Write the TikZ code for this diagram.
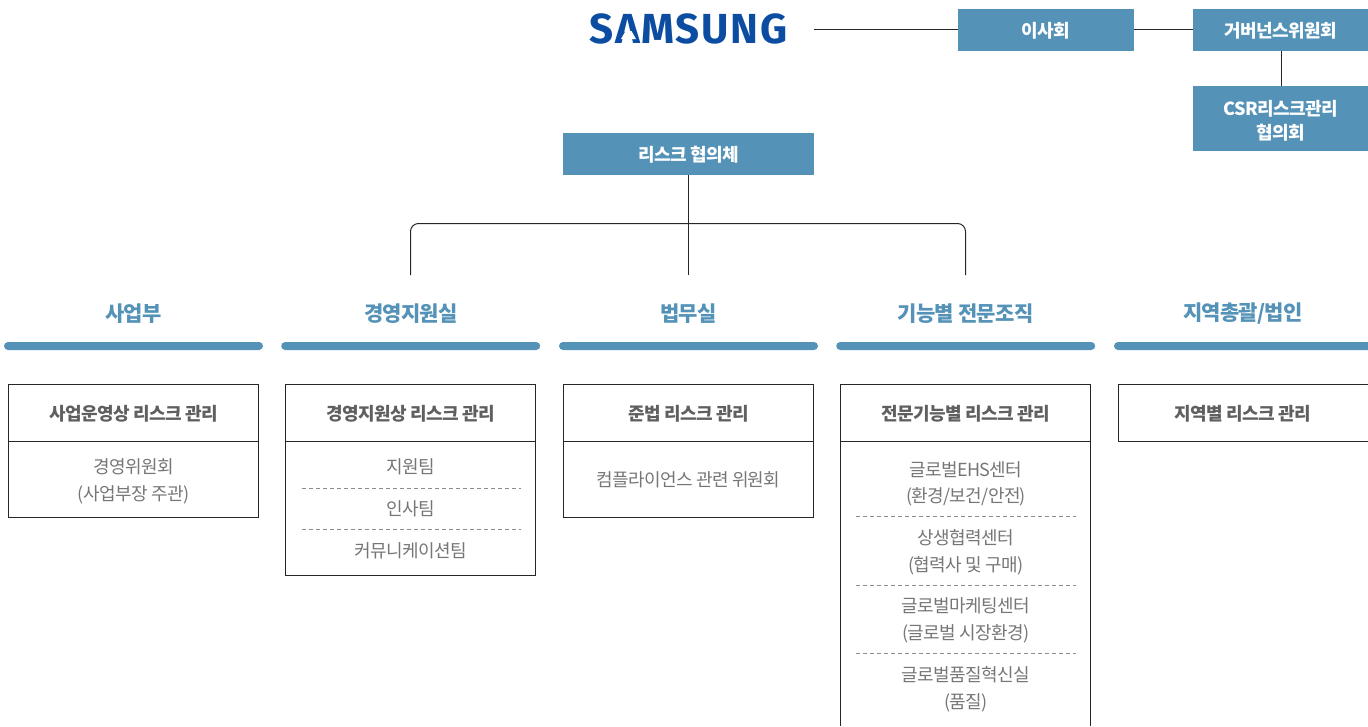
\documentclass[tikz,border=0pt]{standalone}
\usepackage{fontspec}
\setmainfont{Noto Sans CJK KR}[LetterSpace=-3.5]
\newfontfamily\logofont{Fira Sans}[LetterSpace=4]
\definecolor{riskblue}{HTML}{5492B7}
\definecolor{logoblue}{HTML}{0C4DA2}
\definecolor{headgray}{HTML}{5F5F5F}
\definecolor{bodygray}{HTML}{767676}
\definecolor{linedark}{HTML}{262626}
\definecolor{dashgray}{HTML}{8C8C8C}

\begin{document}
\begin{tikzpicture}[x=1pt,y=-1pt]
 \tikzstyle{bluebox} = [fill=riskblue,text=white,font=\fontsize{18}{24}\selectfont\bfseries,align=center,inner sep=0,outer sep=0,minimum height=42,execute at begin node={\rule{0pt}{17pt}}]
 \tikzstyle{coltitle} = [text=riskblue,font=\fontsize{21}{24}\selectfont\bfseries,inner sep=0]
 \tikzstyle{colbar} = [fill=riskblue,rounded corners=4,inner sep=0,outer sep=0,minimum width=259,minimum height=8]
 \tikzstyle{headbox} = [draw=linedark,line width=1pt,text=headgray,font=\fontsize{18}{24}\selectfont\bfseries,inner sep=0,outer sep=0,minimum width=250,minimum height=57,execute at begin node={\rule{0pt}{17pt}}]
 \tikzstyle{bodybox} = [draw=linedark,line width=1pt,inner sep=0,outer sep=0,minimum width=250]
 \tikzstyle{bodytext} = [text=bodygray,font=\fontsize{18}{24}\selectfont,inner sep=0]
 \tikzstyle{treeline} = [draw=linedark,line width=1pt]
 \tikzstyle{dashline} = [draw=dashgray,line width=0.8pt,dash pattern=on 4pt off 3pt]

 \useasboundingbox (0,0) rectangle (1368,726);

  % Top row
  \node[inner sep=0,text=logoblue,font=\logofont\fontsize{42}{42}\selectfont\bfseries] (logo) at (688.5,28.5) {SAMSUNG};
  % The logo's A has no bar
  \fill[white] (625.5,31) -- (631.5,31) -- (636,39) -- (621,39) -- cycle;
  \coordinate (logoend) at (814,29.5);
  \node[bluebox,minimum width=176] (board) at (1046,30) {이사회};
  \node[bluebox,minimum width=176] (govern) at (1281,30) {거버넌스위원회};
  \node[bluebox,minimum width=176,minimum height=65] (csr) at (1281,118.5) {\rule{0pt}{19pt}CSR리스크관리\\협의회};
  \node[bluebox,minimum width=251] (council) at (688.5,154) {리스크 협의체};

  \draw[treeline] (logoend) -- (logoend -| board.west);
  \draw[treeline] (board.east |- logoend) -- (govern.west |- logoend);
  \draw[treeline] (govern.south) -- (csr.north);

  % Column titles
  \node[coltitle] (title1) at (133.5,314) {사업부};
  \node[coltitle] (title2) at (411,314) {경영지원실};
  \node[coltitle] (title3) at (688.5,314) {법무실};
  \node[coltitle] (title4) at (965.5,314) {기능별 전문조직};
  \node[coltitle] (title5) at (1243,314) {지역총괄/법인};

  \node[colbar] (bar1) at (133.5,346) {};
  \node[colbar] (bar2) at (410.7,346) {};
  \node[colbar] (bar3) at (688.5,346) {};
  \node[colbar] (bar4) at (965.7,346) {};
  % Runs off the right edge
  \fill[riskblue] (1368,342) [rounded corners=4] -- (1114,342) -- (1114,350) [sharp corners] -- (1368,350) -- cycle;

  % Tree
  \coordinate (tree2) at (410.5,275);
  \coordinate (tree3) at (688.5,275);
  \coordinate (tree4) at (965.5,275);
  \draw[treeline] (council.south) -- (tree3);
  \draw[treeline,rounded corners=8] (tree2) -- (410.5,223.5) -- (965.5,223.5) -- (tree4);

  % Header boxes
  \node[headbox] (head1) at (133.5,413) {사업운영상 리스크 관리};
  \node[headbox] (head2) at (410.8,413) {경영지원상 리스크 관리};
  \node[headbox] (head3) at (688.5,413) {준법 리스크 관리};
  \node[headbox] (head4) at (965.8,413) {전문기능별 리스크 관리};
  \node[headbox] (head5) at (1243,413) {지역별 리스크 관리};

  % Body boxes
  \node[bodybox,minimum height=76] (body1) at (133.5,479.5) {};
  \node[bodybox,minimum height=134] (body2) at (410.8,508.5) {};
  \node[bodybox,minimum height=76] (body3) at (688.5,479.5) {};
  \coordinate (open4l) at (840.8,726);
  \coordinate (open4r) at (1090.8,726);
  \draw[treeline] (head4.south west) -- (open4l);
  \draw[treeline] (head4.south east) -- (open4r);

  % Body texts
  \node[bodytext] (t11) at (133.5,467) {경영위원회};
  \node[bodytext] (t12) at (133.5,495) {(사업부장 주관)};

  \node[bodytext] (t21) at (411,467) {지원팀};
  \node[bodytext] (t22) at (411,509) {인사팀};
  \node[bodytext] (t23) at (411,551) {커뮤니케이션팀};
  \coordinate (d21) at (302,488);
  \coordinate (d21e) at (521,488);
  \coordinate (d22) at (302,529.5);
  \coordinate (d22e) at (521,529.5);
  \draw[dashline] (d21) -- (d21e);
  \draw[dashline] (d22) -- (d22e);

  \node[bodytext] (t31) at (688.5,480) {컴플라이언스 관련 위원회};

  \node[bodytext] (t41) at (966,470) {글로벌EHS센터};
  \node[bodytext] (t42) at (966,497) {(환경/보건/안전)};
  \node[bodytext] (t43) at (966,538) {상생협력센터};
  \node[bodytext] (t44) at (966,566) {(협력사 및 구매)};
  \node[bodytext] (t45) at (966,606) {글로벌마케팅센터};
  \node[bodytext] (t46) at (966,634) {(글로벌 시장환경)};
  \node[bodytext] (t47) at (966,675) {글로벌품질혁신실};
  \node[bodytext] (t48) at (966,703) {(품질)};
  \coordinate (d41) at (856,516.5);
  \coordinate (d41e) at (1076,516.5);
  \coordinate (d42) at (856,585);
  \coordinate (d42e) at (1076,585);
  \coordinate (d43) at (856,653.5);
  \coordinate (d43e) at (1076,653.5);
  \draw[dashline] (d41) -- (d41e);
  \draw[dashline] (d42) -- (d42e);
  \draw[dashline] (d43) -- (d43e);

\end{tikzpicture}
\end{document}
